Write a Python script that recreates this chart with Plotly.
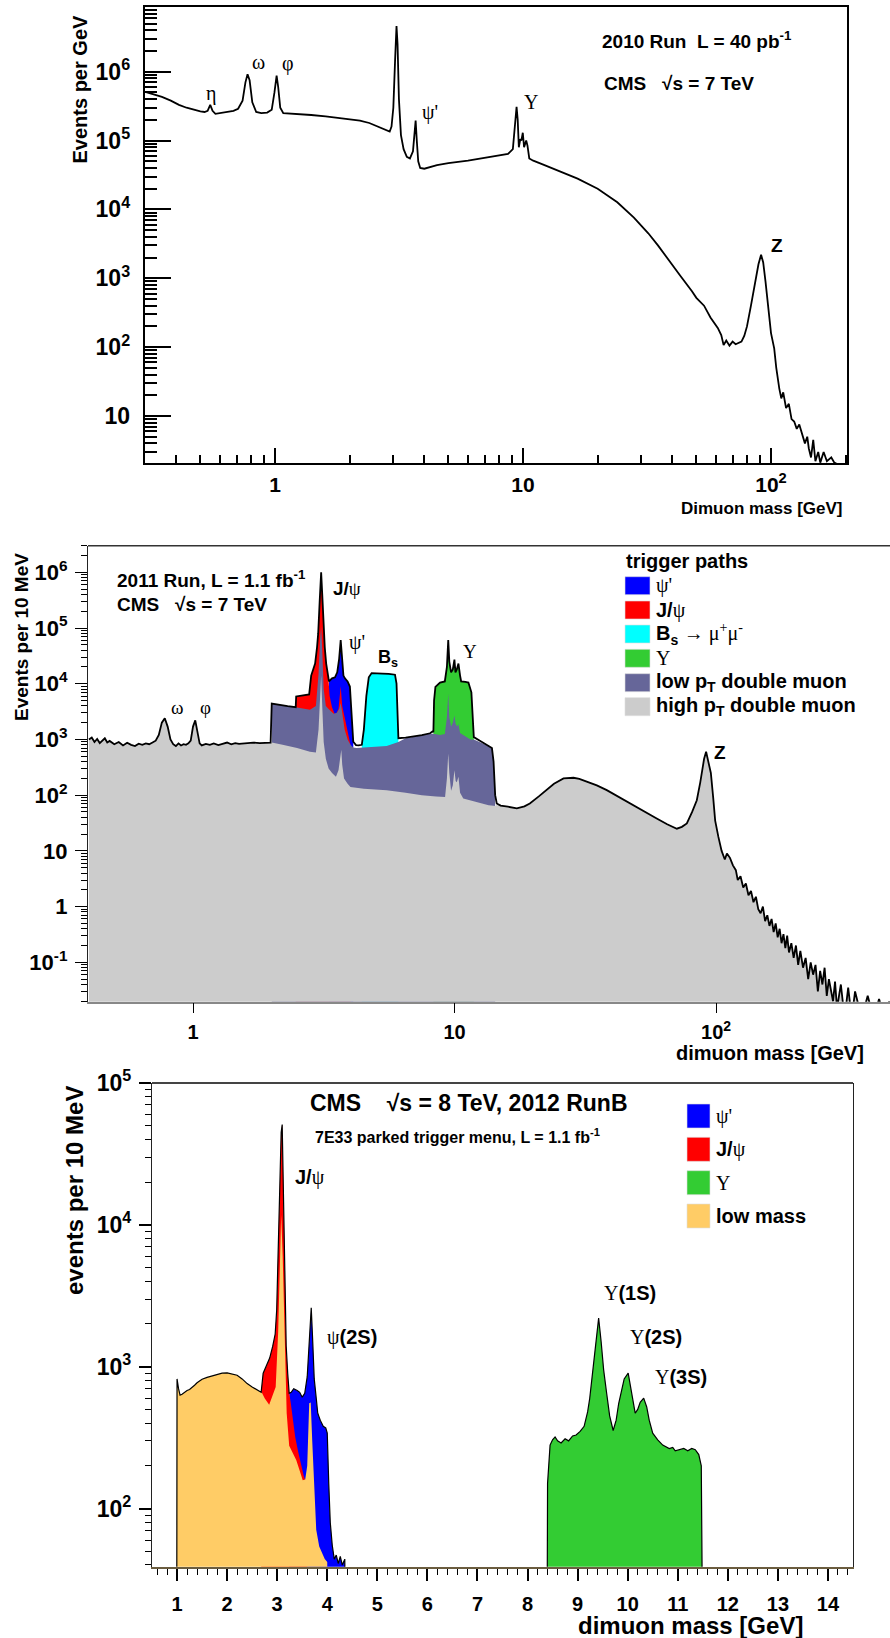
import numpy as np
import plotly.graph_objects as go

W, H = 890, 1638

# ---------------- data: 2010 (events per GeV) ----------------
mass_2010 = [0.30, 0.32, 0.35, 0.38, 0.41, 0.44, 0.47, 0.50, 0.52, 0.535, 0.548, 0.56, 0.575, 0.60, 0.64,
             0.68, 0.71, 0.74, 0.76, 0.775, 0.79, 0.81, 0.84, 0.88, 0.93, 0.97, 0.995, 1.015, 1.03, 1.05,
             1.08, 1.2, 1.4, 1.6, 1.8, 2.0, 2.2, 2.4, 2.6, 2.8, 2.9, 2.95, 3.0, 3.05, 3.09, 3.12, 3.16,
             3.22, 3.3, 3.4, 3.5, 3.6, 3.65, 3.69, 3.73, 3.78, 3.85, 4.0, 4.5, 5.0, 6.0, 7.0, 8.0, 8.7,
             9.1, 9.3, 9.42, 9.52, 9.62, 9.75, 9.85, 9.98, 10.1, 10.3, 10.42, 10.6, 11, 12, 14, 16.6, 20,
             24, 28, 32, 35, 40, 43, 48, 50, 53.7, 57, 61, 63, 64.4, 66, 68, 70, 72, 74, 76, 78, 80, 83,
             86, 89, 91.2, 93, 95, 98, 100, 103, 105, 108, 110, 112, 115, 118, 121, 124, 127, 130, 134,
             137, 140, 142, 145, 148, 151, 155, 158, 163, 168, 175, 180, 185]
events_2010 = [5.1e5, 4.8e5, 4.3e5, 3.8e5, 3.3e5, 3.0e5, 2.8e5, 2.65e5, 2.6e5, 2.7e5, 3.3e5, 2.7e5, 2.45e5,
               2.5e5, 2.6e5, 2.7e5, 2.9e5, 3.8e5, 7.0e5, 9.2e5, 7.5e5, 3.6e5, 2.6e5, 2.5e5, 2.55e5, 2.8e5,
               5.0e5, 8.8e5, 6.0e5, 3.0e5, 2.5e5, 2.45e5, 2.35e5, 2.25e5, 2.15e5, 2.05e5, 1.95e5, 1.8e5,
               1.6e5, 1.4e5, 1.35e5, 1.6e5, 3.0e5, 1.5e6, 4.6e6, 2.5e6, 4.0e5, 1.2e5, 7.5e4, 5.8e4, 5.5e4,
               7.0e4, 1.2e5, 1.95e5, 1.0e5, 5.0e4, 4.0e4, 3.9e4, 4.4e4, 4.7e4, 5.1e4, 5.6e4, 6.1e4, 6.4e4,
               7.5e4, 1.6e5, 3.1e5, 2.0e5, 8.0e4, 1.05e5, 1.0e5, 1.3e5, 8.0e4, 1.0e5, 8.5e4, 5.5e4, 5.1e4,
               4.5e4, 3.6e4, 2.8e4, 2.0e4, 1.27e4, 7.6e3, 4.5e3, 3.0e3, 1.6e3, 1.1e3, 6.5e2, 5.2e2, 4.0e2,
               2.7e2, 1.9e2, 1.5e2, 1.07e2, 1.25e2, 1.05e2, 1.2e2, 1.1e2, 1.15e2, 1.2e2, 1.45e2, 2.0e2,
               4.0e2, 8.7e2, 1.6e3, 2.2e3, 1.7e3, 9.0e2, 3.2e2, 1.6e2, 96, 50, 25, 18, 22, 13, 15, 9.0, 8.3,
               6.5, 7.5, 5.3, 4.0, 5.0, 3.4, 2.5, 4.5, 2.2, 3.0, 2.1, 3.0, 2.2, 2.5, 2.1, 2.0]

# ---------------- data: 2011 (events per 10 MeV) ----------------
mass_2011 = [0.40, 0.41, 0.42, 0.43, 0.44, 0.45, 0.46, 0.47, 0.48, 0.50, 0.52, 0.54, 0.56, 0.58, 0.60,
             0.62, 0.64, 0.66, 0.68, 0.70, 0.72, 0.74, 0.76, 0.78, 0.80, 0.82, 0.84, 0.86, 0.88, 0.90,
             0.92, 0.94, 0.96, 0.98, 1.00, 1.02, 1.04, 1.06, 1.08, 1.12, 1.16, 1.20, 1.25, 1.30, 1.35,
             1.40, 1.45, 1.50, 1.60, 1.70, 1.80, 1.90, 1.98, 2.00, 2.10, 2.20, 2.30, 2.47, 2.48, 2.60,
             2.78, 2.83, 2.93, 2.98, 3.01, 3.05, 3.09, 3.12, 3.15, 3.19, 3.23, 3.29, 3.31, 3.40, 3.49,
             3.56, 3.62, 3.67, 3.71, 3.76, 3.81, 3.90, 3.98, 4.02, 4.06, 4.10, 4.20, 4.30, 4.42, 4.50,
             4.60, 4.70, 4.82, 5.00, 5.30, 5.60, 5.92, 6.00, 6.05, 6.10, 6.50, 7.00, 7.50, 8.06, 8.25,
             8.30, 8.35, 8.45, 8.80, 9.18, 9.35, 9.46, 9.55, 9.70, 9.85, 9.99, 10.08, 10.20, 10.35,
             10.50, 10.60, 11.00, 11.30, 11.60, 11.75, 11.85, 12.5, 13.0, 13.5, 13.9, 14.1, 14.3, 14.5,
             15, 16, 17.3, 18.5, 19.4, 21, 22.5, 24, 26.1, 28.5, 30, 32, 35, 38.2, 42, 46.9, 52, 59.3,
             65, 70.8, 74, 77.3, 81, 84.4, 87, 88.5, 90, 91.6, 93, 95.5, 97.5, 99.2, 102, 105, 108, 110,
             113, 116, 119, 121, 124, 127, 130, 133, 136, 139, 142, 145, 148, 151, 154, 157, 160, 163,
             166, 169, 172, 175, 178, 181, 184, 187, 190, 194, 198, 202, 206, 210, 215, 220, 225, 230,
             235, 240, 245, 250, 255, 260, 265, 270, 280, 285, 290, 300, 310, 320, 330, 340, 360, 380,
             400, 420, 440, 460]
total_2011 = [1000, 1080, 900, 1020, 860, 960, 1050, 880, 940, 820, 900, 780, 870, 800, 760, 840, 800, 850,
              820, 880, 950, 1200, 2000, 2400, 1700, 1000, 820, 760, 850, 780, 820, 800, 850, 950, 1700,
              2200, 1300, 850, 780, 830, 800, 850, 790, 830, 880, 820, 860, 830, 850, 880, 860, 870, 880,
              4400, 4200, 4050, 3950, 3800, 5900, 6100, 6400, 1.4e4, 2.3e4, 4.5e4, 7.9e4, 3.0e5, 1.0e6,
              4.0e5, 1.4e5, 4.5e4, 2.3e4, 1.35e4, 1.1e4, 1.25e4, 1.3e4, 1.6e4, 2.8e4, 6.1e4, 2.6e4, 1.4e4,
              1.25e4, 1.1e4, 8.9e3, 4000, 1500, 910, 790, 780, 800, 1500, 6000, 1.3e4, 1.55e4, 1.55e4,
              1.52e4, 1.5e4, 1.45e4, 1.0e4, 3000, 1050, 1080, 1130, 1200, 1290, 1400, 1350, 5000, 8800,
              1.05e4, 1.1e4, 2.0e4, 6.1e4, 2.5e4, 1.6e4, 1.8e4, 2.7e4, 1.6e4, 1.8e4, 2.3e4, 1.4e4, 1.1e4,
              1.08e4, 1.05e4, 7000, 2000, 1100, 950, 850, 780, 700, 400, 100, 71, 65, 62, 58, 63, 71, 95,
              123, 160, 200, 205, 195, 175, 150, 123, 95, 71, 53, 38, 30, 25, 27, 31, 50, 81, 170, 280,
              450, 600, 450, 250, 90, 35, 18, 10, 7, 9, 7.5, 5.5, 4.5, 3.0, 3.5, 2.2, 2.6, 1.6, 1.9, 1.2,
              1.5, 0.9, 0.76, 1.0, 0.55, 0.7, 0.45, 0.6, 0.35, 0.5, 0.28, 0.4, 0.22, 0.32, 0.18, 0.3, 0.15,
              0.22, 0.12, 0.2, 0.09, 0.16, 0.08, 0.12, 0.05, 0.1, 0.06, 0.09, 0.03, 0.07, 0.04, 0.08,
              0.025, 0.05, 0.02, 0.045, 0.015, 0.04, 0.01, 0.035, 0.01, 0.03, 0.01, 0.025, 0.01, 0.022,
              0.01, 0.02]

mass_lowpt_2011 = [2.0, 2.1, 2.2, 2.3, 2.47, 2.6, 2.8, 2.95, 3.02, 3.06, 3.09, 3.12, 3.16, 3.22, 3.3, 3.45,
                   3.55, 3.62, 3.67, 3.72, 3.8, 3.9, 4.0, 4.1, 4.22, 4.5, 5.0, 5.5, 6.1, 6.5, 7.0, 7.5,
                   8.06, 8.4, 8.8, 9.18, 9.35, 9.46, 9.55, 9.7, 9.85, 9.99, 10.1, 10.25, 10.35, 10.5,
                   10.8, 11.2, 11.5, 11.85, 12.5, 13.0, 13.5, 13.9, 14.1, 14.3]
lowpt_2011 = [4400, 4200, 4050, 3950, 3800, 3600, 3400, 4000, 1.5e4, 6e4, 1.05e5, 4e4, 8e3, 4000, 3500,
              2900, 3000, 3500, 4500, 3000, 1500, 1000, 800, 720, 700, 720, 740, 760, 900, 1050, 1120,
              1190, 1280, 1250, 1200, 1250, 2500, 6700, 2500, 1700, 2000, 2700, 1900, 1700, 1900, 1300,
              1200, 1050, 1000, 1000, 900, 820, 760, 700, 400, 100]

mass_highpt_mid_2011 = [2.0, 2.2, 2.5, 2.8, 2.95, 3.02, 3.06, 3.09, 3.12, 3.16, 3.22, 3.3, 3.4, 3.52, 3.6,
                        3.66, 3.69, 3.72, 3.78, 3.9, 4.0, 4.5, 5.5, 6.5, 7.5, 8.5, 9.2, 9.35, 9.46, 9.55,
                        9.7, 9.85, 9.99, 10.1, 10.2, 10.35, 10.5, 10.8, 11.5, 12.5, 13.5, 14.4]
highpt_mid_2011 = [880, 800, 700, 600, 580, 1500, 6000, 1.4e4, 4000, 900, 450, 300, 250, 215, 280, 550, 650,
                   350, 200, 160, 140, 130, 123, 110, 100, 95, 93, 200, 560, 250, 120, 150, 280, 180, 170,
                   215, 110, 87, 80, 72, 66, 64]

mass_jpsi_under_2011 = [3.33, 3.40, 3.50, 3.60, 3.67, 3.72, 3.80, 3.90, 3.97, 4.02]
jpsi_under_2011 = [6000, 3800, 2700, 3500, 9000, 4000, 2500, 1400, 900, 720]

# trigger-path mass windows (GeV) where each path is the top of the stack
jpsi_window_2011 = (2.47, 3.29)
psi2_window_2011 = (3.31, 4.10)
bs_window_2011 = (4.42, 6.10)
ups_window_2011 = (8.30, 11.85)
lowpt_span_2011 = (2.0, 14.45)

# ---------------- data: 2012 (events per 10 MeV) ----------------
mass_2012_cc = [0.99, 1.0, 1.03, 1.06, 1.1, 1.15, 1.2, 1.25, 1.3, 1.35, 1.4, 1.45, 1.5, 1.6, 1.7, 1.8, 1.9,
                2.0, 2.1, 2.2, 2.3, 2.4, 2.5, 2.6, 2.68, 2.72, 2.78, 2.85, 2.91, 2.96, 2.99, 3.02, 3.05,
                3.08, 3.10, 3.12, 3.15, 3.18, 3.21, 3.24, 3.28, 3.33, 3.4, 3.45, 3.5, 3.55, 3.6, 3.65,
                3.68, 3.71, 3.74, 3.78, 3.81, 3.86, 3.92, 3.97, 4.0, 4.03, 4.06, 4.1, 4.14, 4.18, 4.22,
                4.26, 4.3, 4.35, 4.4]
total_2012_cc = [1, 820, 700, 630, 640, 660, 680, 690, 720, 740, 770, 790, 815, 840, 860, 880, 900, 905,
                 890, 870, 820, 760, 720, 690, 660, 900, 1000, 1150, 1390, 1700, 2500, 6000, 2.0e4, 4.5e4,
                 5.1e4, 2.0e4, 5000, 1400, 900, 650, 660, 700, 680, 660, 610, 650, 850, 1600, 2600, 1500,
                 820, 600, 470, 420, 380, 370, 340, 150, 80, 55, 44, 47, 41, 46, 40, 44, 1]

mass_2012_ups = [8.38, 8.4, 8.45, 8.5, 8.55, 8.6, 8.67, 8.75, 8.82, 8.9, 8.97, 9.05, 9.13, 9.2, 9.24, 9.3,
                 9.36, 9.42, 9.47, 9.52, 9.58, 9.64, 9.71, 9.77, 9.82, 9.86, 9.93, 10.01, 10.07, 10.15,
                 10.2, 10.25, 10.32, 10.38, 10.43, 10.5, 10.6, 10.7, 10.83, 10.9, 10.95, 11.05, 11.12,
                 11.2, 11.28, 11.35, 11.42, 11.47, 11.5, 11.52]
total_2012_ups = [1, 150, 280, 305, 320, 300, 290, 310, 300, 325, 330, 350, 380, 480, 590, 900, 1500, 2200,
                  1500, 950, 650, 450, 355, 420, 550, 650, 820, 900, 700, 470, 500, 560, 600, 520, 420,
                  340, 305, 280, 265, 270, 255, 260, 265, 255, 265, 260, 240, 200, 60, 1]

mass_lowmass_under_2012 = [2.70, 2.75, 2.84, 2.90, 2.97, 3.02, 3.05, 3.08, 3.11, 3.14, 3.19, 3.24, 3.30,
                           3.38, 3.45, 3.51, 3.56, 3.60, 3.64, 3.67, 3.70, 3.73, 3.78, 3.84, 3.90, 3.95,
                           4.00, 4.02]
lowmass_under_2012 = [650, 600, 540, 620, 720, 1760, 5000, 1.18e4, 6000, 2400, 470, 277, 250, 220, 185,
                      158, 160, 200, 553, 560, 300, 158, 71, 54, 48, 44, 42, 1]

mass_jpsi_under_2012 = [3.27, 3.31, 3.36, 3.42, 3.48, 3.53, 3.57, 3.60]
jpsi_under_2012 = [560, 420, 320, 250, 200, 170, 155, 150]

jpsi_window_2012 = (2.68, 3.24)
psi2_window_2012 = (3.24, 4.40)

# ---------------- colours ----------------
C_BLUE, C_RED, C_CYAN, C_GREEN = "#0000ff", "#ff0000", "#00ffff", "#33cc33"
C_SLATE, C_GRAY, C_ORANGE = "#666699", "#cccccc", "#ffcc66"

SANS = "Liberation Sans"
SERIF = "Liberation Serif"


def win(m, v, lo, hi):
    m = np.asarray(m, float)
    v = np.asarray(v, float)
    k = (m >= lo) & (m <= hi)
    return m[k], v[k]


def fill(x, y, color, xa, ya):
    return go.Scatter(x=list(x), y=list(y), mode="lines", fill="tozeroy", fillcolor=color,
                      line=dict(width=0, color=color), xaxis=xa, yaxis=ya,
                      hoverinfo="skip", showlegend=False)


def line(x, y, xa, ya, width=2):
    return go.Scatter(x=list(x), y=list(y), mode="lines", line=dict(color="black", width=width),
                      xaxis=xa, yaxis=ya, hoverinfo="skip", showlegend=False)


fig = go.Figure(layout=dict(template="none"))

# ---- panel 1 ----
fig.add_trace(line(mass_2010, events_2010, "x", "y", 1.8))

# ---- panel 2 ----
m_tot = np.asarray(mass_2011)
v_tot = np.asarray(total_2011)
bx, by = win(m_tot, v_tot, *psi2_window_2011)
fig.add_trace(fill(bx, by, C_BLUE, "x2", "y2"))
rx, ry = win(m_tot, v_tot, *jpsi_window_2011)
fig.add_trace(fill(np.concatenate([rx, mass_jpsi_under_2011]),
                   np.concatenate([ry, jpsi_under_2011]), C_RED, "x2", "y2"))
cx, cy = win(m_tot, v_tot, *bs_window_2011)
fig.add_trace(fill(cx, cy, C_CYAN, "x2", "y2"))
gx, gy = win(m_tot, v_tot, *ups_window_2011)
fig.add_trace(fill(gx, gy, C_GREEN, "x2", "y2"))
fig.add_trace(fill(mass_lowpt_2011, lowpt_2011, C_SLATE, "x2", "y2"))
lo_k = m_tot < lowpt_span_2011[0]
hi_k = m_tot > lowpt_span_2011[1]
gray_x = np.concatenate([m_tot[lo_k], mass_highpt_mid_2011, m_tot[hi_k]])
gray_y = np.concatenate([v_tot[lo_k], highpt_mid_2011, v_tot[hi_k]])
fig.add_trace(fill(gray_x, gray_y, C_GRAY, "x2", "y2"))
fig.add_trace(line(m_tot, v_tot, "x2", "y2", 1.8))

# ---- panel 3 ----
m3 = np.asarray(mass_2012_cc)
v3 = np.asarray(total_2012_cc)
bx, by = win(m3, v3, *psi2_window_2012)
fig.add_trace(fill(bx, by, C_BLUE, "x3", "y3"))
rx, ry = win(m3, v3, *jpsi_window_2012)
fig.add_trace(fill(np.concatenate([rx, mass_jpsi_under_2012]),
                   np.concatenate([ry, jpsi_under_2012]), C_RED, "x3", "y3"))
fig.add_trace(fill(mass_2012_ups, total_2012_ups, C_GREEN, "x3", "y3"))
k = m3 < jpsi_window_2012[0] + 0.001
fig.add_trace(fill(np.concatenate([m3[k], mass_lowmass_under_2012]),
                   np.concatenate([v3[k], lowmass_under_2012]), C_ORANGE, "x3", "y3"))
fig.add_trace(line(m3, v3, "x3", "y3", 1.2))
fig.add_trace(line(mass_2012_ups, total_2012_ups, "x3", "y3", 1.2))


# ---------------- layout helpers ----------------
def px(x):
    return x / W


def py(y):
    return 1 - y / H


def decade_minors(lo, hi):
    out = []
    for e in range(lo, hi + 1):
        for d in range(2, 10):
            out.append(d * 10.0 ** e)
    return out


def sup(e):
    return "10<sup>%d</sup>" % e


tickfont = dict(family=SANS, size=23, color="black", weight="bold")
common = dict(showgrid=False, zeroline=False, automargin=False, tickcolor="black")

layout = dict(
    width=W, height=H, margin=dict(l=0, r=0, t=0, b=0, pad=0, autoexpand=False),
    paper_bgcolor="white", plot_bgcolor="white", showlegend=False,
    # panel 1
    xaxis=dict(common, domain=[px(144.7), px(847.4)], anchor="y", type="log", range=[-0.5254, 2.308],
               tickvals=[1, 10, 100], ticktext=["1", "10", sup(2)], ticks="inside", ticklen=15,
               tickwidth=1.5, showline=True, linecolor="black", linewidth=2,
               mirror=True, tickfont=dict(tickfont, size=21), ticklabelstandoff=2,
               minor=dict(tickmode="array", tickvals=[0.3, 0.4, 0.5, 0.6, 0.7, 0.8, 0.9] +
                          decade_minors(0, 1) + [200], ticks="inside", ticklen=8, tickwidth=1.5,
                          tickcolor="black", showgrid=False)),
    yaxis=dict(common, domain=[py(463), py(7)], anchor="x", type="log", range=[0.317, 6.94],
               tickvals=[10, 1e2, 1e3, 1e4, 1e5, 1e6], ticktext=["10", sup(2), sup(3), sup(4), sup(5), sup(6)],
               ticks="inside", ticklen=26, tickwidth=1.5, showline=True,
               linecolor="black", linewidth=2, mirror=True,
               tickfont=tickfont, ticklabelstandoff=8,
               minor=dict(tickmode="array", tickvals=decade_minors(0, 6), ticks="inside", ticklen=12,
                          tickwidth=1.5, tickcolor="black", showgrid=False)),
    # panel 2
    xaxis2=dict(common, domain=[px(88), 1.0], anchor="y2", type="log", range=[-0.4015, 2.665],
                tickvals=[1, 10, 100], ticktext=["1", "10", sup(2)], ticks="outside", ticklen=10,
                tickwidth=1.2, showline=True, linecolor="#888888", linewidth=1.5,
                mirror=False, tickfont=dict(tickfont, size=20), ticklabelstandoff=2),
    yaxis2=dict(common, domain=[py(1001.7), py(545.7)], anchor="x2", type="log", range=[-1.707, 6.477],
                tickvals=[0.1, 1, 10, 1e2, 1e3, 1e4, 1e5, 1e6],
                ticktext=["10<sup>-1</sup>", "1", "10", sup(2), sup(3), sup(4), sup(5), sup(6)],
                ticks="outside", ticklen=12, tickwidth=1.2, showline=True,
                linecolor="#222222", linewidth=1.2, mirror=True,
                tickfont=dict(tickfont, size=22), ticklabelstandoff=3,
                minor=dict(tickmode="array", tickvals=decade_minors(-2, 6), ticks="outside", ticklen=6,
                           tickwidth=1, tickcolor="black", showgrid=False)),
    # panel 3
    xaxis3=dict(common, domain=[px(152), px(853)], anchor="y3", type="linear", range=[0.5, 14.5],
                tickvals=list(range(1, 15)), ticks="outside", ticklen=12, tickwidth=1.5,
                showline=True, linecolor="#6b5d3f", linewidth=2, mirror=False,
                tickfont=dict(tickfont, size=20), ticklabelstandoff=6,
                minor=dict(dtick=0.2, tick0=0, ticks="outside", ticklen=6, tickwidth=1, tickcolor="black",
                           showgrid=False)),
    yaxis3=dict(common, domain=[py(1566.7), py(1083)], anchor="x3", type="log", range=[1.59, 5.0],
                tickvals=[1e2, 1e3, 1e4, 1e5], ticktext=[sup(2), sup(3), sup(4), sup(5)],
                ticks="outside", ticklen=12, tickwidth=1.5, showline=True,
                linecolor="#222222", linewidth=1.3, mirror=True,
                tickfont=dict(tickfont, size=23), ticklabelstandoff=3,
                minor=dict(tickmode="array", tickvals=decade_minors(1, 4), ticks="outside", ticklen=6,
                           tickwidth=1, tickcolor="black", showgrid=False)),
)
fig.update_layout(**layout)

GR = "font-family:'%s';font-weight:normal" % SERIF


def g(s):
    return "<span style=\"%s\">%s</span>" % (GR, s)


anns = []


def ann(text, x, y, size=20, xanchor="left", yanchor="middle", angle=0, family=SANS, weight="bold"):
    anns.append(dict(text=text, x=px(x), y=py(y), xref="paper", yref="paper", showarrow=False,
                     xanchor=xanchor, yanchor=yanchor, textangle=angle,
                     font=dict(family=family, size=size, color="black", weight=weight)))


# panel 1 texts
ann("2010 Run  L = 40 pb<sup>-1</sup>", 600, 40, 19)
ann("CMS   √s = 7 TeV", 602, 83, 19)
ann("η", 211, 93, 20, "center", family=SERIF, weight="normal")
ann("ω", 258, 62, 20, "center", family=SERIF, weight="normal")
ann("φ", 288, 64, 20, "center", family=SERIF, weight="normal")
ann("ψ'", 430, 113, 20, "center", family=SERIF, weight="normal")
ann("Υ", 531, 102, 20, "center", family=SERIF, weight="normal")
ann("Z", 777, 245, 19, "center")
ann("Events per GeV", 80, 13, 20, "center", "top", -90)
ann("Dimuon mass [GeV]", 845, 508, 17, "right")

# panel 2 texts
ann("2011 Run, L = 1.1 fb<sup>-1</sup>", 115, 579, 19)
ann("CMS   √s = 7 TeV", 115, 604, 19)
ann("J/" + g("ψ"), 331, 588, 19)
ann("ψ'", 357, 643, 20, "center", family=SERIF, weight="normal")
ann("B<sub>s</sub>", 376, 658, 18)
ann("ω", 177, 707, 19, "center", family=SERIF, weight="normal")
ann("φ", 205, 707, 19, "center", family=SERIF, weight="normal")
ann("Υ", 470, 652, 19, "center", family=SERIF, weight="normal")
ann("Z", 720, 753, 19, "center")
ann("Events per 10 MeV", 22, 637, 19, "center", "middle", -90)
ann("dimuon mass [GeV]", 866, 1053, 20, "right")

ann("trigger paths", 624, 561, 20)
leg2 = [(C_BLUE, g("ψ'")), (C_RED, "J/" + g("ψ")), (C_CYAN, "B<sub>s</sub> " + g("→ μ<sup>+</sup>μ<sup>-</sup>")),
        (C_GREEN, g("Υ")), (C_SLATE, "low p<sub>T</sub> double muon"), (C_GRAY, "high p<sub>T</sub> double muon")]
leg2_y = [585.7, 610, 634, 658.3, 682.7, 706.7]
shapes = [
    # frame top edges drawn darker than the bottom axis lines
    dict(type="line", xref="paper", yref="paper", x0=px(88), x1=1.0, y0=py(545.7), y1=py(545.7),
         line=dict(color="#333333", width=1.5)),
    dict(type="line", xref="paper", yref="paper", x0=px(152), x1=px(853), y0=py(1083), y1=py(1083),
         line=dict(color="#444444", width=2)),
]
for (col, txt), yy in zip(leg2, leg2_y):
    shapes.append(dict(type="rect", xref="paper", yref="paper", x0=px(625), x1=px(650), y0=py(yy + 9),
                       y1=py(yy - 9), fillcolor=col, line=dict(width=0.6, color="#dddddd")))
    ann(txt, 654, yy, 20)

# panel 3 texts
ann("CMS    √s = 8 TeV, 2012 RunB", 308, 1103, 23)
ann("7E33 parked trigger menu, L = 1.1 fb<sup>-1</sup>", 313, 1136, 16)
ann("J/" + g("ψ"), 293, 1177, 20)
ann(g("ψ") + "(2S)", 325, 1337, 20)
ann(g("Υ") + "(1S)", 602, 1293, 20)
ann(g("Υ") + "(2S)", 628, 1337, 20)
ann(g("Υ") + "(3S)", 653, 1377, 20)
ann("events per 10 MeV", 74, 1191, 24, "center", "middle", -90)
ann("dimuon mass [GeV]", 805, 1625, 24, "right")

leg3 = [(C_BLUE, g("ψ'")), (C_RED, "J/" + g("ψ")), (C_GREEN, g("Υ")), (C_ORANGE, "low mass")]
leg3_y = [1116, 1149.3, 1182.7, 1216]
for (col, txt), yy in zip(leg3, leg3_y):
    shapes.append(dict(type="rect", xref="paper", yref="paper", x0=px(687), x1=px(710), y0=py(yy + 12),
                       y1=py(yy - 12), fillcolor=col, line=dict(width=0.6, color="#dddddd")))
    ann(txt, 714, yy, 20)

fig.update_layout(annotations=anns, shapes=shapes)
fig.write_html("out.html")
